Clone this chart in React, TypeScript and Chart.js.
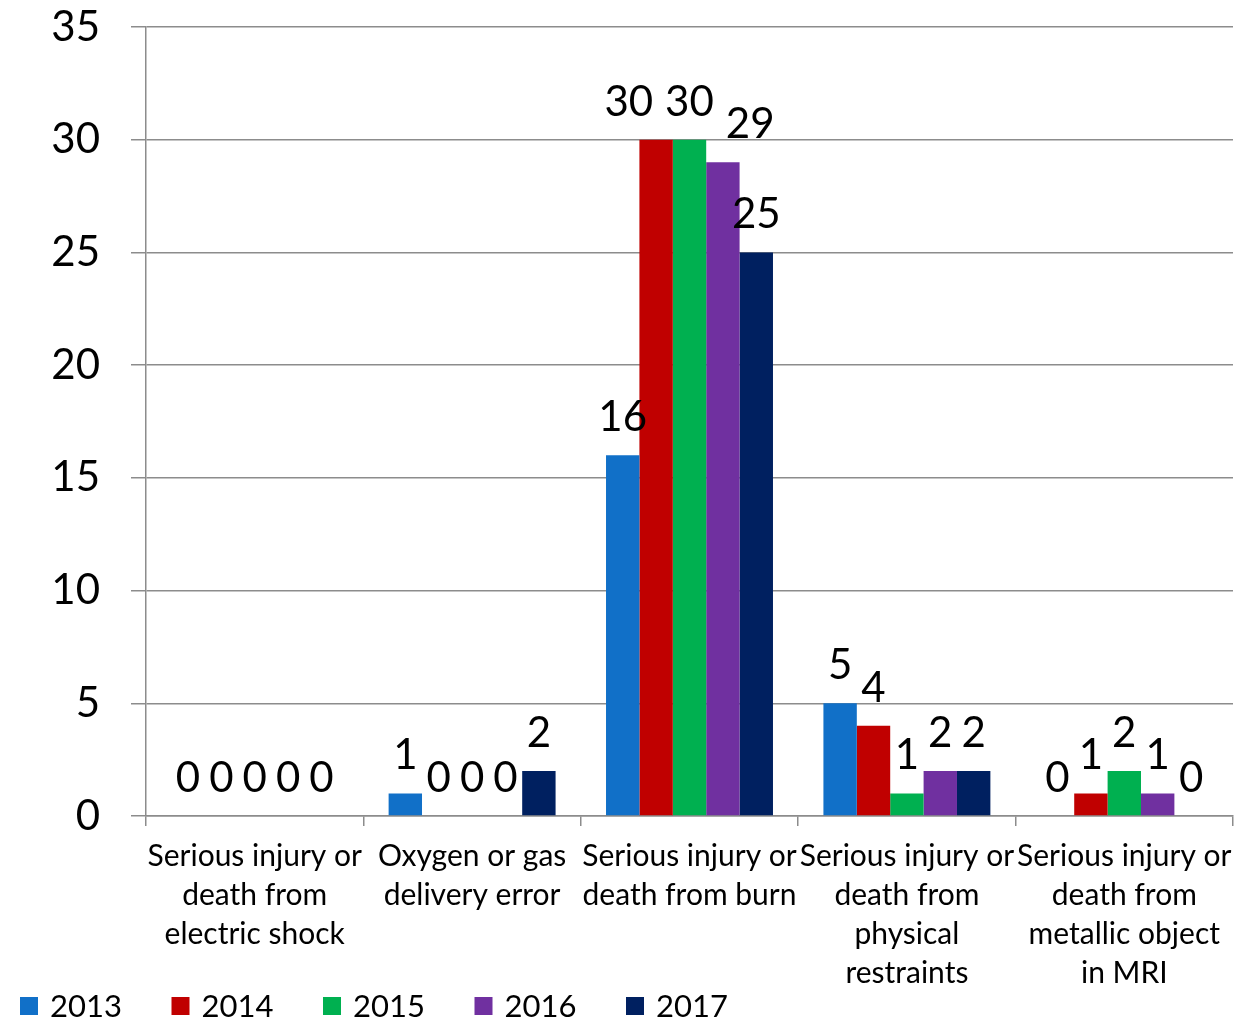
import React, { useEffect, useRef } from "react";
import { Chart, registerables } from "chart.js";

Chart.register(...registerables);

const categories: string[][] = [
  ["Serious injury or", "death from", "electric shock"],
  ["Oxygen or gas", "delivery error"],
  ["Serious injury or", "death from burn"],
  ["Serious injury or", "death from", "physical", "restraints"],
  ["Serious injury or", "death from", "metallic object", "in MRI"],
];
const years = ["2013", "2014", "2015", "2016", "2017"];
const values2013 = [0, 1, 16, 5, 0];
const values2014 = [0, 0, 30, 4, 1];
const values2015 = [0, 0, 30, 1, 2];
const values2016 = [0, 0, 29, 2, 1];
const values2017 = [0, 2, 25, 2, 0];
const yMin = 0;
const yMax = 35;
const yStep = 5;

const seriesColors = ["#1170C8", "#C00000", "#00B050", "#7030A0", "#002060"];
const FONT = "Lato, 'Open Sans', sans-serif";
const GRID = "#8C8C8C";

const dataLabelPlugin = {
  id: "dataLabels",
  afterDatasetsDraw(chart: any) {
    const ctx = chart.ctx;
    ctx.save();
    const size = 42;
    ctx.font = `${size}px ${FONT}`;
    ctx.fillStyle = "#000";
    ctx.textAlign = "center";
    ctx.textBaseline = "alphabetic";
    const nCat = chart.data.labels.length;
    for (let j = 0; j < nCat; j++) {
      const items: any[] = [];
      chart.data.datasets.forEach((ds: any, i: number) => {
        const el = chart.getDatasetMeta(i).data[j];
        const text = String(ds.data[j]);
        const w = ctx.measureText(text).width;
        const base = el.y - 24;
        items.push({ text, x: el.x, w, base, top: base - size * 0.72, moved: false });
      });
      // overlap avoidance: only labels that actually collide are pushed apart with a margin
      for (let it = 0; it < 40; it++) {
        for (let k = 0; k < items.length - 1; k++) {
          const a = items[k];
          const b = items[k + 1];
          const vOverlap = a.top < b.base && b.top < a.base;
          if (!vOverlap) continue;
          const dist = b.x - a.x;
          const overlap = (a.w + b.w) / 2 - dist;
          const margin = a.moved || b.moved ? 12 : 0;
          const need = (a.w + b.w) / 2 + 12 - dist;
          if ((overlap > 0 || (margin > 0 && need > 0.1)) && need > 0.1) {
            a.x -= need / 2;
            b.x += need / 2;
            a.moved = true;
            b.moved = true;
          }
        }
      }
      items.forEach((t) => ctx.fillText(t.text, t.x, t.base));
    }
    ctx.restore();
  },
};

const legendPlugin = {
  id: "customLegend",
  afterDraw(chart: any) {
    const ctx = chart.ctx;
    ctx.save();
    ctx.font = `31px ${FONT}`;
    ctx.textAlign = "left";
    ctx.textBaseline = "middle";
    const cy = 1006;
    chart.data.datasets.forEach((ds: any, i: number) => {
      const x = 20 + i * 151.5;
      ctx.fillStyle = ds.backgroundColor;
      ctx.fillRect(x, cy - 9, 18, 18);
      ctx.fillStyle = "#000";
      ctx.fillText(ds.label, x + 30, cy + 1);
    });
    ctx.restore();
  },
};

export default function App() {
  const ref = useRef<HTMLCanvasElement>(null);
  useEffect(() => {
    document.body.style.margin = "0";
    const seriesValues = [values2013, values2014, values2015, values2016, values2017];
    const chart = new Chart(ref.current as HTMLCanvasElement, {
      type: "bar",
      data: {
        labels: categories,
        datasets: years.map((y, i) => ({
          label: y,
          data: seriesValues[i],
          backgroundColor: seriesColors[i],
          borderWidth: 0,
          categoryPercentage: 0.768,
          barPercentage: 1,
        })),
      },
      options: {
        animation: false,
        responsive: false,
        devicePixelRatio: 1,
        layout: { padding: { top: 0, right: 12, left: 0, bottom: 0 } },
        plugins: {
          legend: { display: false },
          tooltip: { enabled: false },
        },
        scales: {
          x: {
            grid: {
              drawOnChartArea: false,
              drawTicks: true,
              tickLength: 10,
              color: GRID,
              lineWidth: 1.5,
              offset: true,
            },
            border: { color: GRID, width: 1.5 },
            ticks: {
              color: "#000",
              font: { family: FONT, size: 30, lineHeight: 39 / 30 },
              padding: 11,
              maxRotation: 0,
              minRotation: 0,
              autoSkip: false,
            },
            afterFit: (s: any) => {
              s.height = 205;
            },
          },
          y: {
            min: yMin,
            max: yMax,
            ticks: {
              stepSize: yStep,
              color: "#000",
              font: { family: FONT, size: 42 },
              padding: 31,
            },
            grid: { color: GRID, lineWidth: 1.5, tickLength: 15 },
            border: { color: GRID, width: 1.5 },
            afterFit: (s: any) => {
              s.width = 146;
              s.paddingTop = 27;
              s.paddingBottom = 0;
            },
          },
        },
      },
      plugins: [dataLabelPlugin, legendPlugin],
    });
    return () => chart.destroy();
  }, []);
  return <canvas ref={ref} width={1245} height={1021} style={{ display: "block" }} />;
}
